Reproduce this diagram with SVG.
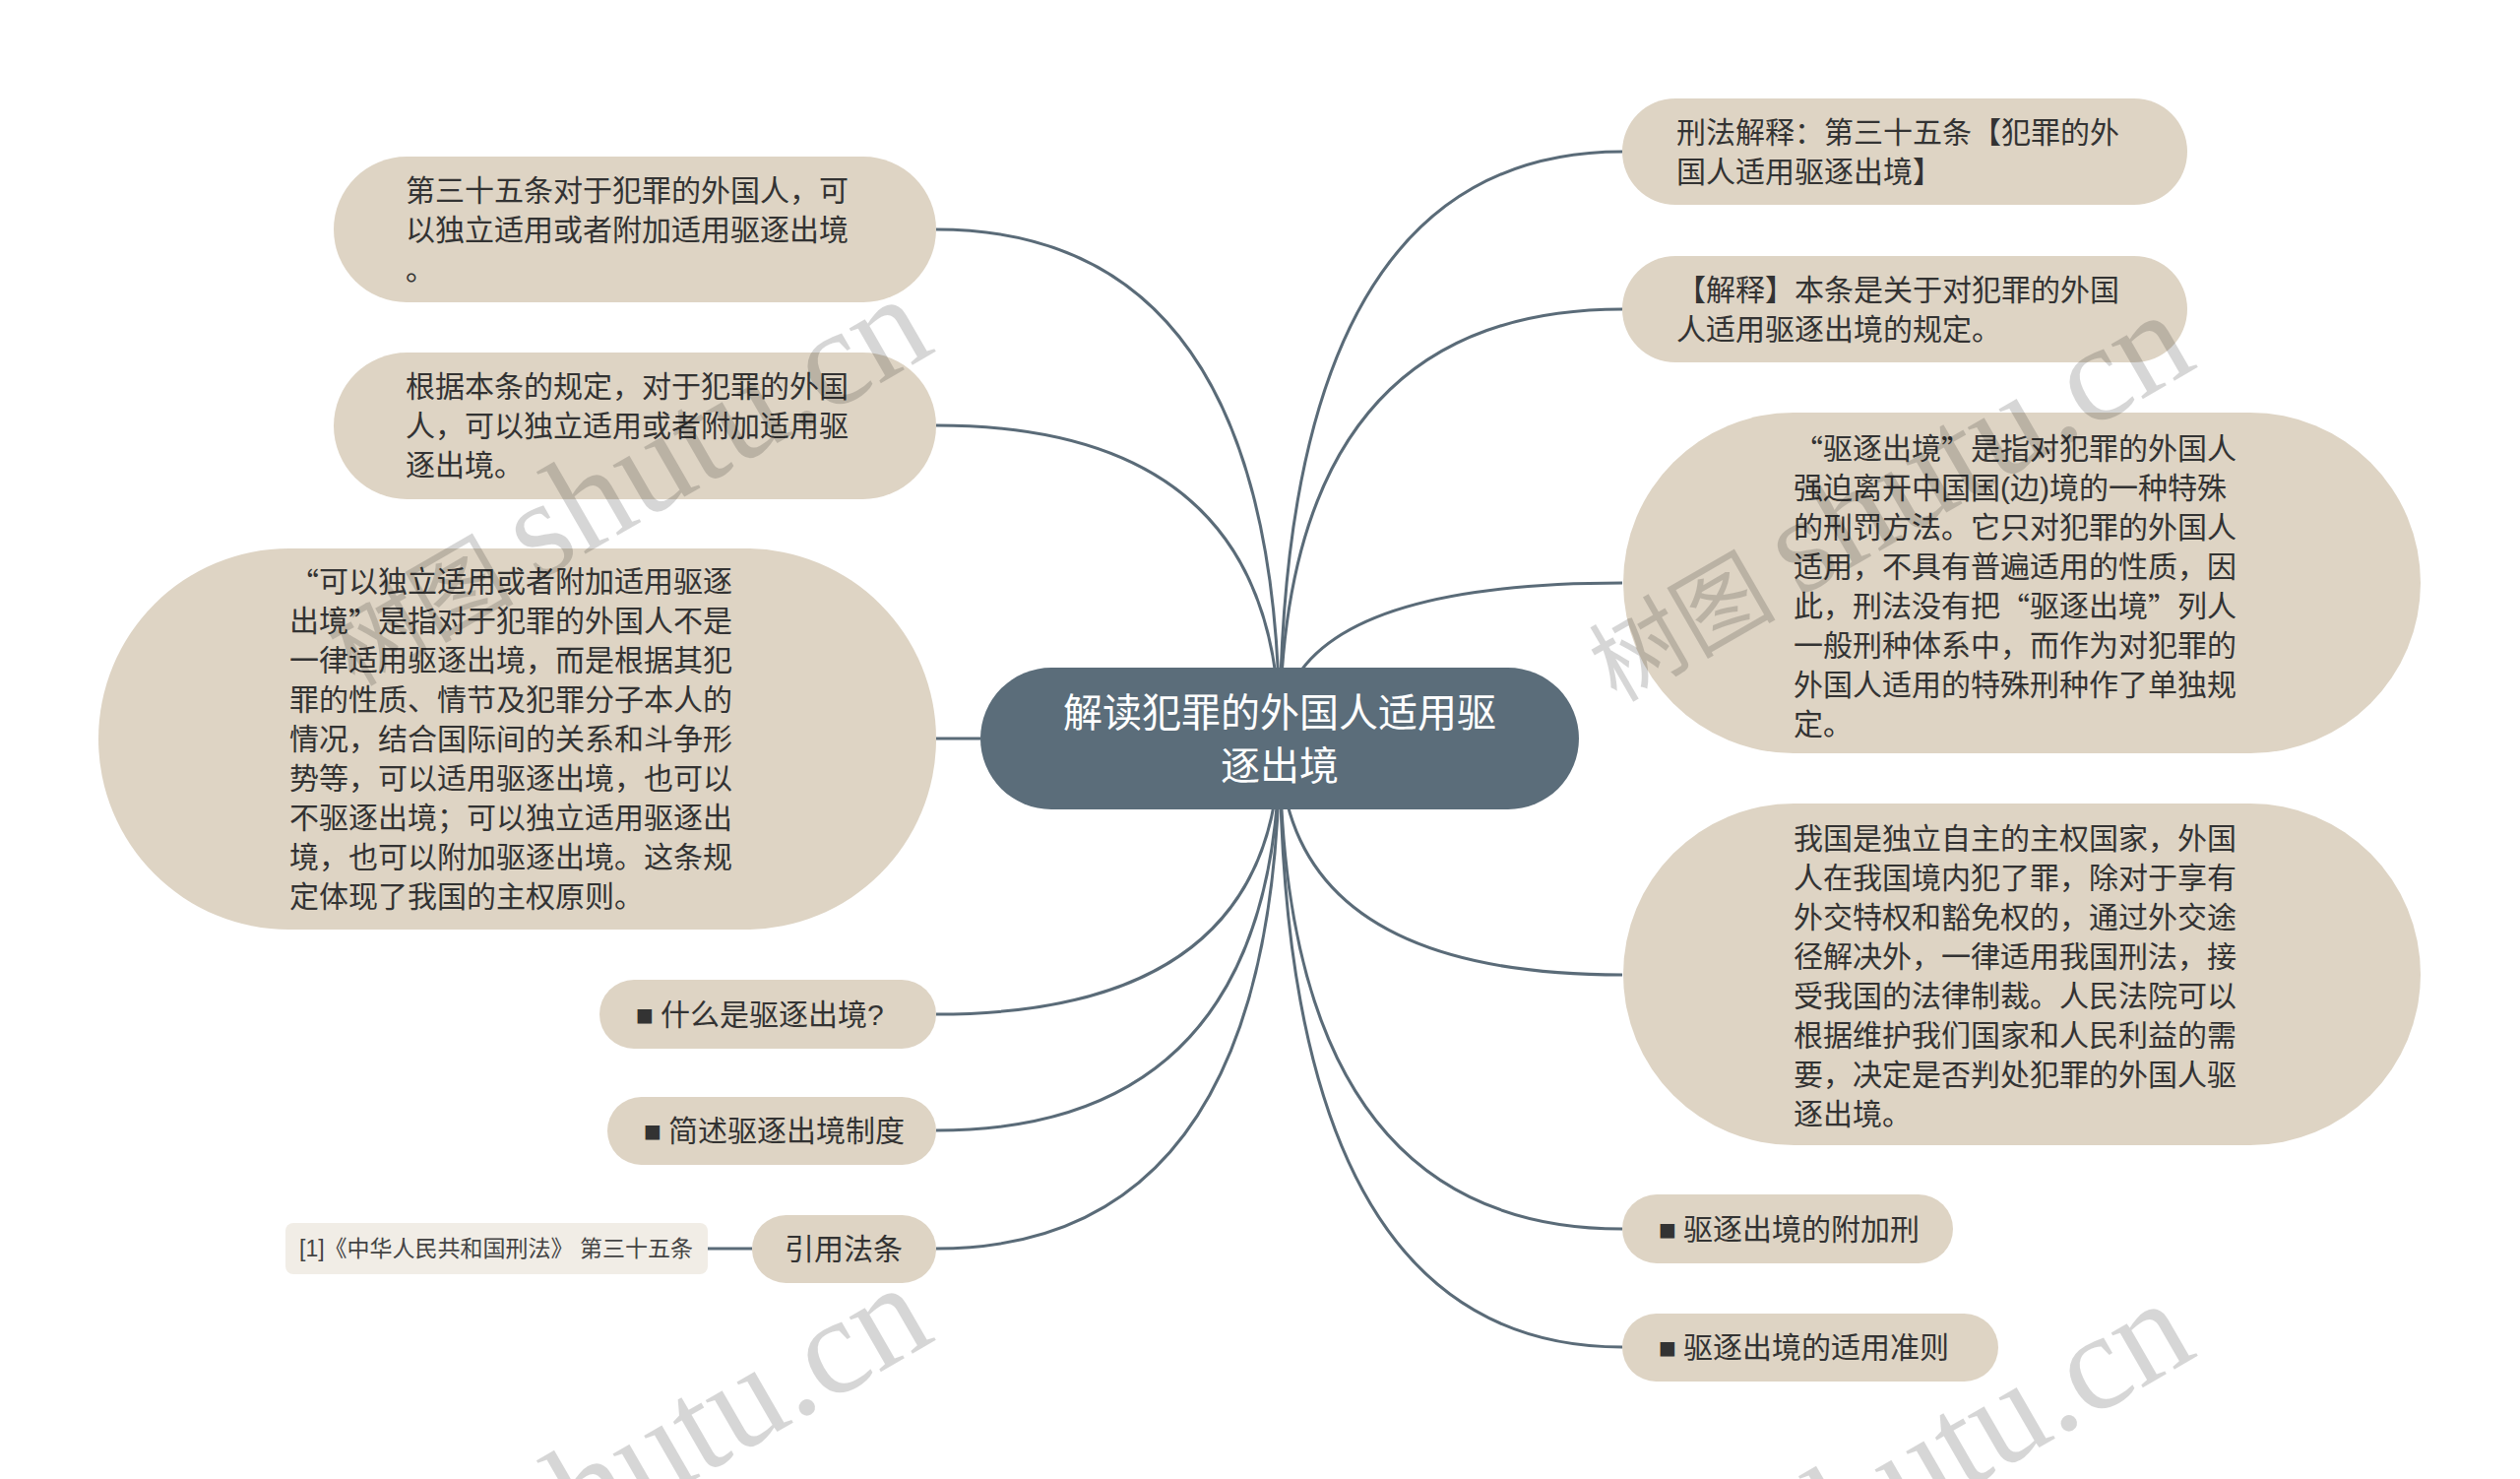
<svg xmlns="http://www.w3.org/2000/svg" width="2560" height="1502" viewBox="0 0 2560 1502">
<style>
.bg{fill:#ffffff}
.node rect{fill:#ded4c4}
.t{font-family:"Liberation Sans","Noto Sans CJK SC",sans-serif;font-size:30px;fill:#333333;dominant-baseline:central}
.q{font-family:"Noto Sans CJK SC",sans-serif}
.b{font-family:"DejaVu Sans",sans-serif;font-size:19px}
.conn path{fill:none;stroke:#5a6b78;stroke-width:3}
.center rect{fill:#5b6d7a}
.ct{font-family:"Liberation Sans","Noto Sans CJK SC",sans-serif;font-size:40px;fill:#ffffff;text-anchor:middle;dominant-baseline:central}
.cite rect{fill:#f1ede6}
.cit{font-family:"Liberation Sans","Noto Sans CJK SC",sans-serif;font-size:23px;fill:#444444;dominant-baseline:central}
.wm{font-family:"Liberation Serif","Noto Sans CJK SC",serif;fill:#000000;fill-opacity:0.16}
</style>
<rect class="bg" x="0" y="0" width="2560" height="1502"/>

<g id="connectors" class="conn">
<path d="M1300 750 Q1300 233 951 233"/>
<path d="M1300 750 Q1300 432 951 432"/>
<path d="M996 750 L951 750"/>
<path d="M1300 750 Q1300 1030 951 1030"/>
<path d="M1300 750 Q1300 1148 951 1148"/>
<path d="M1300 750 Q1300 1268 951 1268"/>
<path d="M719 1268 L764 1268"/>
<path d="M1300 750 Q1300 154 1648 154"/>
<path d="M1300 750 Q1300 314 1648 314"/>
<path d="M1300 750 Q1300 592 1648 592"/>
<path d="M1300 750 Q1300 990 1648 990"/>
<path d="M1300 750 Q1300 1248 1648 1248"/>
<path d="M1300 750 Q1300 1368 1648 1368"/>
</g>

<g id="center" class="center">
<rect x="996" y="678" width="608" height="144" rx="72"/>
<text class="ct"><tspan x="1300" y="724">解读犯罪的外国人适用驱</tspan><tspan x="1300" y="778">逐出境</tspan></text>
</g>

<g id="node-l1" class="node">
<rect x="339" y="159" width="612" height="148" rx="74"/>
<text class="t"><tspan x="412" y="193">第三十五条对于犯罪的外国人，可</tspan><tspan x="412" y="233">以独立适用或者附加适用驱逐出境</tspan><tspan x="412" y="273">。</tspan></text>
</g>

<g id="node-l2" class="node">
<rect x="339" y="358" width="612" height="149" rx="74.5"/>
<text class="t"><tspan x="412" y="392">根据本条的规定，对于犯罪的外国</tspan><tspan x="412" y="432">人，可以独立适用或者附加适用驱</tspan><tspan x="412" y="472">逐出境。</tspan></text>
</g>

<g id="node-l3" class="node">
<rect x="100" y="557" width="851" height="387" rx="193.5"/>
<text class="t"><tspan x="294" y="590"><tspan class="q">“</tspan>可以独立适用或者附加适用驱逐</tspan><tspan x="294" y="630">出境<tspan class="q">”</tspan>是指对于犯罪的外国人不是</tspan><tspan x="294" y="670">一律适用驱逐出境，而是根据其犯</tspan><tspan x="294" y="710">罪的性质、情节及犯罪分子本人的</tspan><tspan x="294" y="750">情况，结合国际间的关系和斗争形</tspan><tspan x="294" y="790">势等，可以适用驱逐出境，也可以</tspan><tspan x="294" y="830">不驱逐出境；可以独立适用驱逐出</tspan><tspan x="294" y="870">境，也可以附加驱逐出境。这条规</tspan><tspan x="294" y="910">定体现了我国的主权原则。</tspan></text>
</g>

<g id="node-l4" class="node">
<rect x="609" y="995" width="342" height="70" rx="35"/>
<text class="t" y="1030"><tspan class="b" x="646">■</tspan><tspan x="671">什么是驱逐出境?</tspan></text>
</g>

<g id="node-l5" class="node">
<rect x="617" y="1114" width="334" height="69" rx="34.5"/>
<text class="t" y="1148"><tspan class="b" x="654">■</tspan><tspan x="679">简述驱逐出境制度</tspan></text>
</g>

<g id="node-l6" class="node">
<rect x="764" y="1234" width="187" height="69" rx="34.5"/>
<text class="t" x="857" y="1268" text-anchor="middle">引用法条</text>
</g>

<g id="node-cite" class="cite">
<rect x="290" y="1242" width="429" height="52" rx="8"/>
<text class="cit" x="304" y="1268">[1]《中华人民共和国刑法》 第三十五条</text>
</g>

<g id="node-r1" class="node">
<rect x="1648" y="100" width="574" height="108" rx="54"/>
<text class="t"><tspan x="1703" y="134">刑法解释：第三十五条【犯罪的外</tspan><tspan x="1703" y="174">国人适用驱逐出境】</tspan></text>
</g>

<g id="node-r2" class="node">
<rect x="1648" y="260" width="574" height="108" rx="54"/>
<text class="t"><tspan x="1703" y="294">【解释】本条是关于对犯罪的外国</tspan><tspan x="1703" y="334">人适用驱逐出境的规定。</tspan></text>
</g>

<g id="node-r3" class="node">
<rect x="1649" y="419" width="810" height="346" rx="173"/>
<text class="t"><tspan x="1822" y="455"><tspan class="q">“</tspan>驱逐出境<tspan class="q">”</tspan>是指对犯罪的外国人</tspan><tspan x="1822" y="495">强迫离开中国国(边)境的一种特殊</tspan><tspan x="1822" y="535">的刑罚方法。它只对犯罪的外国人</tspan><tspan x="1822" y="575">适用，不具有普遍适用的性质，因</tspan><tspan x="1822" y="615">此，刑法没有把<tspan class="q">“</tspan>驱逐出境<tspan class="q">”</tspan>列人</tspan><tspan x="1822" y="655">一般刑种体系中，而作为对犯罪的</tspan><tspan x="1822" y="695">外国人适用的特殊刑种作了单独规</tspan><tspan x="1822" y="735">定。</tspan></text>
</g>

<g id="node-r4" class="node">
<rect x="1649" y="816" width="810" height="347" rx="173.5"/>
<text class="t"><tspan x="1822" y="851">我国是独立自主的主权国家，外国</tspan><tspan x="1822" y="891">人在我国境内犯了罪，除对于享有</tspan><tspan x="1822" y="931">外交特权和豁免权的，通过外交途</tspan><tspan x="1822" y="971">径解决外，一律适用我国刑法，接</tspan><tspan x="1822" y="1011">受我国的法律制裁。人民法院可以</tspan><tspan x="1822" y="1051">根据维护我们国家和人民利益的需</tspan><tspan x="1822" y="1091">要，决定是否判处犯罪的外国人驱</tspan><tspan x="1822" y="1131">逐出境。</tspan></text>
</g>

<g id="node-r5" class="node">
<rect x="1648" y="1213" width="336" height="70" rx="35"/>
<text class="t" y="1248"><tspan class="b" x="1685">■</tspan><tspan x="1710">驱逐出境的附加刑</tspan></text>
</g>

<g id="node-r6" class="node">
<rect x="1648" y="1334" width="382" height="69" rx="34.5"/>
<text class="t" y="1368"><tspan class="b" x="1685">■</tspan><tspan x="1710">驱逐出境的适用准则</tspan></text>
</g>

<g id="watermark" class="wm">
<text transform="translate(360,698) rotate(-30)"><tspan font-size="95">树图 </tspan><tspan font-size="140">shutu.cn</tspan></text>
<text transform="translate(1642,714) rotate(-30)"><tspan font-size="95">树图 </tspan><tspan font-size="140">shutu.cn</tspan></text>
<text transform="translate(360,1702) rotate(-30)"><tspan font-size="95">树图 </tspan><tspan font-size="140">shutu.cn</tspan></text>
<text transform="translate(1642,1718) rotate(-30)"><tspan font-size="95">树图 </tspan><tspan font-size="140">shutu.cn</tspan></text>
</g>
</svg>
